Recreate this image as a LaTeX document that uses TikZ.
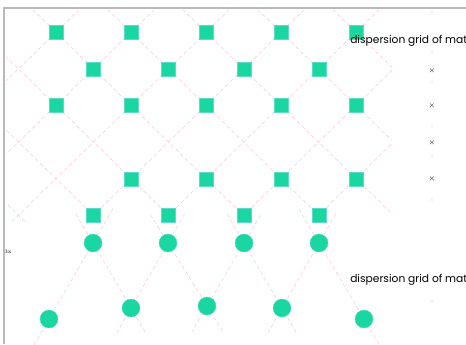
\documentclass[tikz,border=0pt]{standalone}
\usepackage{fontspec}
\usetikzlibrary{calc,backgrounds}
\newfontfamily\gridfont{Poppins}
\definecolor{mint}{RGB}{26,214,160}
\definecolor{mintedge}{RGB}{90,220,200}
\definecolor{gridpink}{RGB}{248,200,210}

\begin{document}
\begin{tikzpicture}[
  x=0.75pt, y=-0.75pt,
  sq/.style={fill=mint, draw=mintedge, line width=0.3pt, minimum size=10.5pt, inner sep=0pt},
  dot/.style={circle, fill=mint, draw=mintedge, line width=0.3pt, minimum size=13.5pt, inner sep=0pt},
  lattice/.style={gridpink, dash pattern=on 3pt off 2pt, line width=0.4pt},
  frame/.style={gray!55, line width=1pt},
  lab/.style={font=\gridfont\fontsize{8}{9}\selectfont, anchor=west, inner sep=0pt},
  smallmark/.style={font=\fontsize{4}{4}\selectfont, inner sep=0pt},
  faint/.style={smallmark, text=gray!25}
]
\useasboundingbox (0,0) rectangle (466,344);
\clip (0,0) rectangle (466,344);

% frame
\draw[frame] (4,344) -- (4,8) -- (466,8);

% square lattice
\foreach \x [count=\i] in {56,131,206,281,356} \node[sq] (sqa-\i) at (\x,32) {};
\foreach \x [count=\i] in {93,168,244,319} \node[sq] (sqb-\i) at (\x,69) {};
\foreach \x [count=\i] in {56,131,206,281,356} \node[sq] (sqc-\i) at (\x,105) {};
\foreach \x [count=\i] in {131,206,281,356} \node[sq] (sqd-\i) at (\x,179) {};
\foreach \x [count=\i] in {93,168,244,319} \node[sq] (sqe-\i) at (\x,215) {};

% dots
\foreach \x [count=\i] in {93,168,244,319} \node[dot] (dota-\i) at (\x,243) {};
\node[dot] (dotb-1) at (49,319) {};
\node[dot] (dotb-2) at (131,308) {};
\node[dot] (dotb-3) at (207,306) {};
\node[dot] (dotb-4) at (282,308) {};
\node[dot] (dotb-5) at (364,319) {};

% dashed grid behind the markers
\begin{pgfonlayer}{background}
  \begin{scope}
    \clip (6,10) rectangle (392,222);
    \foreach \x in {-169,-94,-19,56,131,206,281,356,431,506}{
      \draw[lattice] (\x-200,32-195) -- (\x+260,32+254);
      \draw[lattice] (\x+200,32-195) -- (\x-260,32+254);
    }
  \end{scope}
  \foreach \a/\b in {1/1,1/2,2/2,2/3,3/3,3/4,4/4,4/5}
    \draw[lattice] ($(dota-\a)!-0.45!(dotb-\b)$) -- ($(dota-\a)!1.4!(dotb-\b)$);
\end{pgfonlayer}

% captions
\node[lab] (cap-top) at (350,41) {dispersion grid of mat};
\node[lab] (cap-bot) at (350,280) {dispersion grid of mat};
\node[smallmark] (axis-lab) at (8,252) {3x};

% side marks
\foreach \y [count=\i] in {71,106,143,179} \node[smallmark] (tick-\i) at (432,\y) {$\times$};
\foreach \y [count=\i] in {13,53,83,127,157,200,302} \node[faint] (ftick-\i) at (432,\y) {$\times$};
\end{tikzpicture}
\end{document}
